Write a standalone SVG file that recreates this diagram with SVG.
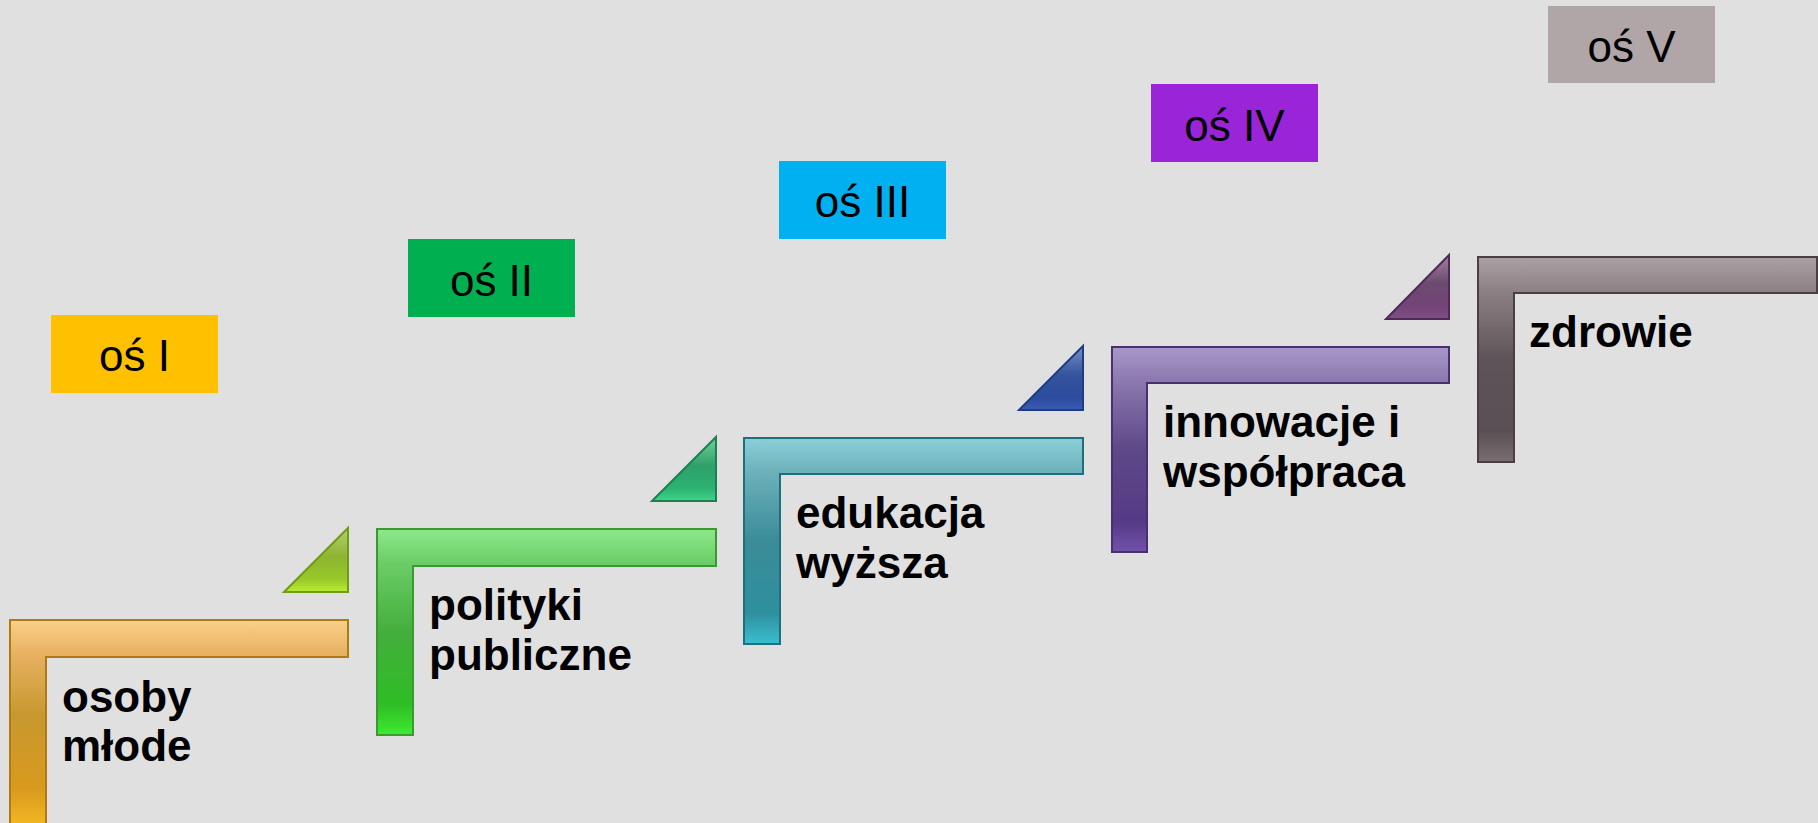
<svg xmlns="http://www.w3.org/2000/svg" width="1818" height="823" viewBox="0 0 1818 823">
<defs>
<style>
.lbl{font-family:"Liberation Sans",Arial,sans-serif;font-size:44px;fill:#000;text-anchor:middle}
.txt{font-family:"Liberation Sans",Arial,sans-serif;font-size:44px;font-weight:bold;fill:#000}
.step{stroke-width:2;stroke-linejoin:miter}
.tri{stroke-width:2;stroke-linejoin:miter}
</style>
<linearGradient id="gOr" x1="0" y1="0" x2="0" y2="1">
<stop offset="0" stop-color="#FAD08A"/><stop offset="0.17" stop-color="#E6B060"/><stop offset="0.45" stop-color="#C8982F"/><stop offset="0.8" stop-color="#D89A1E"/><stop offset="1" stop-color="#F7BA22"/>
</linearGradient>
<linearGradient id="gGr" x1="0" y1="0" x2="0" y2="1">
<stop offset="0" stop-color="#8CE98A"/><stop offset="0.17" stop-color="#6ACC66"/><stop offset="0.5" stop-color="#44AE3C"/><stop offset="0.85" stop-color="#2FBD25"/><stop offset="1" stop-color="#3DEB30"/>
</linearGradient>
<linearGradient id="gTe" x1="0" y1="0" x2="0" y2="1">
<stop offset="0" stop-color="#8BD0D9"/><stop offset="0.17" stop-color="#6CB0BA"/><stop offset="0.5" stop-color="#3A8C98"/><stop offset="0.85" stop-color="#2E909E"/><stop offset="1" stop-color="#3ABFCE"/>
</linearGradient>
<linearGradient id="gPu" x1="0" y1="0" x2="0" y2="1">
<stop offset="0" stop-color="#A898C8"/><stop offset="0.17" stop-color="#8A78AE"/><stop offset="0.5" stop-color="#5E4888"/><stop offset="0.85" stop-color="#553A86"/><stop offset="1" stop-color="#7352AA"/>
</linearGradient>
<linearGradient id="gGy" x1="0" y1="0" x2="0" y2="1">
<stop offset="0" stop-color="#ABA0A4"/><stop offset="0.17" stop-color="#8C8084"/><stop offset="0.5" stop-color="#5E5358"/><stop offset="0.85" stop-color="#5A4F54"/><stop offset="1" stop-color="#7A6E72"/>
</linearGradient>
<linearGradient id="tLi" x1="0" y1="0" x2="0" y2="1">
<stop offset="0" stop-color="#B2D070"/><stop offset="0.45" stop-color="#8EB432"/><stop offset="0.8" stop-color="#98C828"/><stop offset="1" stop-color="#B8EE30"/>
</linearGradient>
<linearGradient id="tGr" x1="0" y1="0" x2="0" y2="1">
<stop offset="0" stop-color="#74D29A"/><stop offset="0.45" stop-color="#2EA06A"/><stop offset="0.8" stop-color="#2CB272"/><stop offset="1" stop-color="#40D48A"/>
</linearGradient>
<linearGradient id="tBl" x1="0" y1="0" x2="0" y2="1">
<stop offset="0" stop-color="#7890C4"/><stop offset="0.45" stop-color="#34549E"/><stop offset="0.8" stop-color="#2C4C9E"/><stop offset="1" stop-color="#3A5CB4"/>
</linearGradient>
<linearGradient id="tMv" x1="0" y1="0" x2="0" y2="1">
<stop offset="0" stop-color="#A0809E"/><stop offset="0.45" stop-color="#6C4A70"/><stop offset="0.8" stop-color="#744478"/><stop offset="1" stop-color="#7E4E86"/>
</linearGradient>
</defs>
<rect x="0" y="0" width="1818" height="823" fill="#E0E0E0"/>

<g id="connectors">
<polygon id="tri-1" class="tri" points="284,592 348,528 348,592" fill="url(#tLi)" stroke="#6E9C14"/>
<polygon id="tri-2" class="tri" points="652,501 716,437 716,501" fill="url(#tGr)" stroke="#1E8050"/>
<polygon id="tri-3" class="tri" points="1019,410 1083,346 1083,410" fill="url(#tBl)" stroke="#203C84"/>
<polygon id="tri-4" class="tri" points="1386,319 1449,255 1449,319" fill="url(#tMv)" stroke="#4C2C54"/>
</g>

<g id="step-1">
<path class="step" d="M10,620 H348 V657 H46 V830 H10 Z" fill="url(#gOr)" stroke="#B07A12"/>
<text class="txt" x="62" y="712">osoby</text>
<text class="txt" x="62" y="761">młode</text>
</g>
<g id="step-2">
<path class="step" d="M377,529 H716 V566 H413 V735 H377 Z" fill="url(#gGr)" stroke="#3A9A30"/>
<text class="txt" x="429" y="620">polityki</text>
<text class="txt" x="429" y="670">publiczne</text>
</g>
<g id="step-3">
<path class="step" d="M744,438 H1083 V474 H780 V644 H744 Z" fill="url(#gTe)" stroke="#1E6E7C"/>
<text class="txt" x="796" y="528">edukacja</text>
<text class="txt" x="796" y="578">wyższa</text>
</g>
<g id="step-4">
<path class="step" d="M1112,347 H1449 V383 H1147 V552 H1112 Z" fill="url(#gPu)" stroke="#48306E"/>
<text class="txt" x="1163" y="437">innowacje i</text>
<text class="txt" x="1163" y="487">współpraca</text>
</g>
<g id="step-5">
<path class="step" d="M1478,257 H1817 V293 H1514 V462 H1478 Z" fill="url(#gGy)" stroke="#4A4044"/>
<text class="txt" x="1529" y="347">zdrowie</text>
</g>

<g id="label-1">
<rect x="51" y="315" width="167" height="78" fill="#FFC000"/>
<text class="lbl" x="134.5" y="371">oś I</text>
</g>
<g id="label-2">
<rect x="408" y="239" width="167" height="78" fill="#00B050"/>
<text class="lbl" x="491.5" y="296">oś II</text>
</g>
<g id="label-3">
<rect x="779" y="161" width="167" height="78" fill="#00B0F0"/>
<text class="lbl" x="862.5" y="217">oś III</text>
</g>
<g id="label-4">
<rect x="1151" y="84" width="167" height="78" fill="#9A24D8"/>
<text class="lbl" x="1234.5" y="141">oś IV</text>
</g>
<g id="label-5">
<rect x="1548" y="6" width="167" height="77" fill="#B0A5A7"/>
<text class="lbl" x="1631.5" y="62">oś V</text>
</g>
</svg>
